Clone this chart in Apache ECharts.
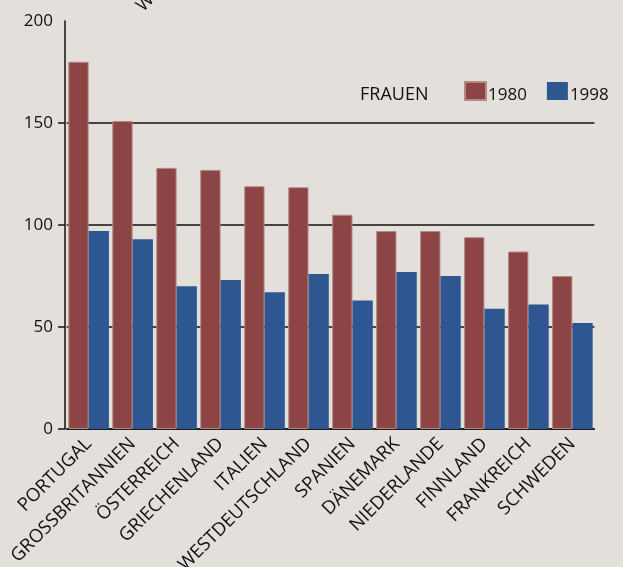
<!DOCTYPE html>
<html>
<head>
<meta charset="utf-8">
<style>
  html, body { margin: 0; padding: 0; background: #e3dfda; }
  #chart { width: 623px; height: 567px; }
</style>
<script src="https://cdn.jsdelivr.net/npm/echarts@6/dist/echarts.min.js"></script>
</head>
<body>
<div id="chart"></div>
<script>
// Länder (Frauen), Werte 1980 und 1998
const countries = ['PORTUGAL', 'GROSSBRITANNIEN', 'ÖSTERREICH', 'GRIECHENLAND', 'ITALIEN',
  'WESTDEUTSCHLAND', 'SPANIEN', 'DÄNEMARK', 'NIEDERLANDE', 'FINNLAND', 'FRANKREICH', 'SCHWEDEN'];
const values1980 = [180, 151, 128, 127, 119, 118.5, 105, 97, 97, 94, 87, 75];
const values1998 = [97, 93, 70, 73, 67, 76, 63, 77, 75, 59, 61, 52];
const yTicks = [0, 50, 100, 150];

const font = '"Open Sans", "Noto Sans", sans-serif';

const chart = echarts.init(document.getElementById('chart'));
chart.setOption({
  backgroundColor: '#e3dfda',
  animation: false,
  textStyle: { fontFamily: font, color: '#111' },
  title: {
    text: 'FRAUEN',
    left: 355,
    top: 81,
    textStyle: { fontSize: 18, fontWeight: 'normal', color: '#111', fontFamily: font }
  },
  graphic: [{
    // abgeschnittener Text oben
    type: 'text',
    x: 146,
    y: 15,
    rotation: Math.PI / 4,
    style: { text: 'W', font: '18px ' + font, fill: '#111', textAlign: 'left', textVerticalAlign: 'bottom' }
  }],
  legend: {
    left: 464,
    top: 81,
    padding: 0,
    itemWidth: 21,
    itemHeight: 18,
    itemGap: 20,
    icon: 'rect',
    formatter: '{t|{name}}',
    textStyle: {
      fontSize: 17, color: '#111', fontFamily: font,
      rich: { t: { fontSize: 17, color: '#111', fontFamily: font, padding: [8, 0, 0, -3] } }
    },
    data: ['1980', '1998']
  },
  grid: { left: 66.65, right: 28.65, top: 21, bottom: 138, outerBoundsMode: 'none', containLabel: false },
  xAxis: {
    type: 'category',
    data: countries,
    axisLine: { lineStyle: { color: '#111', width: 1.5 } },
    axisTick: { show: false },
    axisLabel: { rotate: 45, fontSize: 18.5, color: '#111', margin: 12, interval: 0, fontFamily: font }
  },
  yAxis: {
    type: 'value',
    min: 0,
    max: 200,
    interval: 50,
    offset: 1.65,
    axisLine: { show: true, lineStyle: { color: '#111', width: 1.5 } },
    axisTick: { show: true, length: 7, customValues: yTicks, lineStyle: { color: '#111', width: 1.5 } },
    axisLabel: { fontSize: 17, color: '#111', margin: 12, fontFamily: font },
    splitLine: { show: true, lineStyle: { color: '#111', width: 1.5 } }
  },
  series: [
    {
      name: '1980',
      type: 'bar',
      data: values1980,
      barWidth: 20.3,
      barGap: '0%',
      itemStyle: { color: '#8c4544', borderColor: '#b48884', borderWidth: 1 }
    },
    {
      name: '1998',
      type: 'bar',
      data: values1998,
      barWidth: 20.3,
      barGap: '0%',
      itemStyle: { color: '#2e5690' }
    }
  ]
});
</script>
</body>
</html>
